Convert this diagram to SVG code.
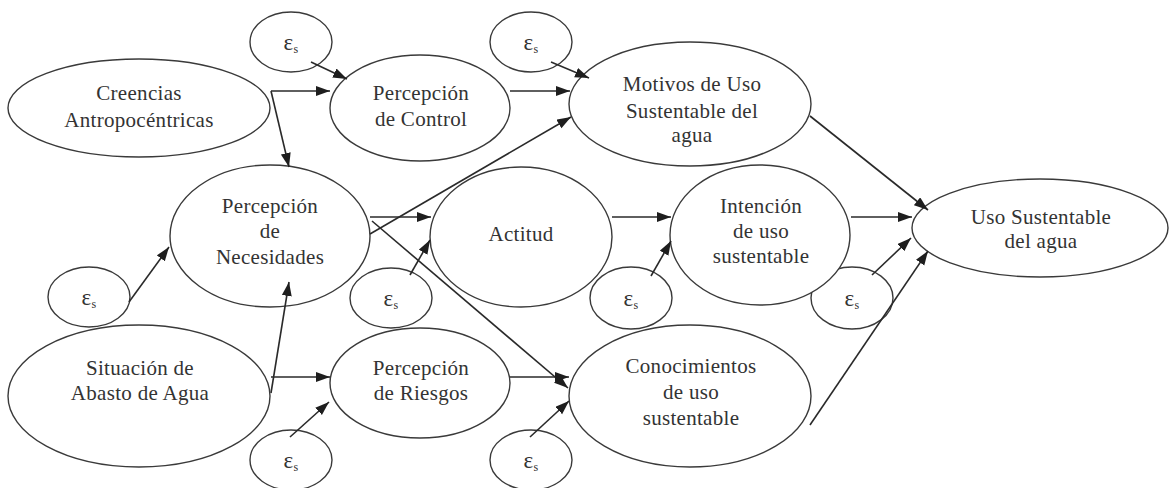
<svg xmlns="http://www.w3.org/2000/svg" width="1169" height="488" viewBox="0 0 1169 488">
  <style>
    .node ellipse { fill: #ffffff; stroke: #3a3a3a; stroke-width: 1.4; }
    .node text { font-family: "Liberation Serif", "Times New Roman", serif; font-size: 21px; fill: #333333; text-anchor: middle; letter-spacing: 0.3px; }
    .err text { font-family: "Liberation Serif", "Times New Roman", serif; font-size: 23px; fill: #333333; text-anchor: middle; }
    .err tspan.sub { font-size: 12px; }
    #connectors line { stroke: #2a2a2a; stroke-width: 1.6; fill: none; marker-end: url(#arrow); }
  </style>
  <defs>
    <marker id="arrow" markerUnits="userSpaceOnUse" markerWidth="15" markerHeight="11" refX="14" refY="5" orient="auto">
      <path d="M0,0 L14,5 L0,10 z" fill="#1e1e1e"/>
    </marker>
  </defs>
  <rect width="1169" height="488" fill="#ffffff"/>

  <!-- error terms -->
  <g id="e-control" class="node err"><ellipse cx="291" cy="42" rx="41" ry="30"/><text x="291" y="50">ε<tspan class="sub" dy="3">s</tspan></text></g>
  <g id="e-motivos" class="node err"><ellipse cx="531" cy="42" rx="41" ry="30"/><text x="531" y="50">ε<tspan class="sub" dy="3">s</tspan></text></g>
  <g id="e-necesidades" class="node err"><ellipse cx="89" cy="297" rx="41" ry="30"/><text x="89" y="305">ε<tspan class="sub" dy="3">s</tspan></text></g>
  <g id="e-actitud" class="node err"><ellipse cx="391" cy="298" rx="41" ry="30"/><text x="391" y="306">ε<tspan class="sub" dy="3">s</tspan></text></g>
  <g id="e-intencion" class="node err"><ellipse cx="631" cy="298" rx="41" ry="31"/><text x="631" y="306">ε<tspan class="sub" dy="3">s</tspan></text></g>
  <g id="e-uso" class="node err"><ellipse cx="852" cy="298" rx="41" ry="31"/><text x="852" y="306">ε<tspan class="sub" dy="3">s</tspan></text></g>
  <g id="e-riesgos" class="node err"><ellipse cx="291" cy="460" rx="41" ry="30"/><text x="291" y="468">ε<tspan class="sub" dy="3">s</tspan></text></g>
  <g id="e-conocimientos" class="node err"><ellipse cx="531" cy="460" rx="41" ry="30"/><text x="531" y="468">ε<tspan class="sub" dy="3">s</tspan></text></g>

  <!-- main constructs -->
  <g id="creencias" class="node"><ellipse cx="139" cy="108" rx="131" ry="49"/>
    <text x="139" y="100">Creencias</text><text x="139" y="127">Antropocéntricas</text></g>
  <g id="control" class="node"><ellipse cx="420" cy="108" rx="90" ry="53"/>
    <text x="421" y="100">Percepción</text><text x="421" y="126">de Control</text></g>
  <g id="motivos" class="node"><ellipse cx="690" cy="104" rx="121" ry="62"/>
    <text x="692" y="91">Motivos de Uso</text><text x="692" y="118">Sustentable del</text><text x="692" y="142">agua</text></g>
  <g id="necesidades" class="node"><ellipse cx="270" cy="236" rx="100" ry="71"/>
    <text x="270" y="213">Percepción</text><text x="270" y="238">de</text><text x="270" y="264">Necesidades</text></g>
  <g id="actitud" class="node"><ellipse cx="521" cy="237" rx="91" ry="70"/>
    <text x="521" y="241">Actitud</text></g>
  <g id="intencion" class="node"><ellipse cx="760" cy="235" rx="90" ry="70"/>
    <text x="761" y="213">Intención</text><text x="761" y="238">de uso</text><text x="761" y="263">sustentable</text></g>
  <g id="uso" class="node"><ellipse cx="1040" cy="228" rx="128" ry="49"/>
    <text x="1041" y="224">Uso Sustentable</text><text x="1041" y="248">del agua</text></g>
  <g id="situacion" class="node"><ellipse cx="139" cy="396" rx="131" ry="71"/>
    <text x="140" y="375">Situación de</text><text x="140" y="400">Abasto de Agua</text></g>
  <g id="riesgos" class="node"><ellipse cx="420" cy="383" rx="90" ry="55"/>
    <text x="421" y="375">Percepción</text><text x="421" y="400">de Riesgos</text></g>
  <g id="conocimientos" class="node"><ellipse cx="690" cy="396" rx="121" ry="71"/>
    <text x="691" y="373">Conocimientos</text><text x="691" y="399">de uso</text><text x="691" y="425">sustentable</text></g>

  <!-- paths between constructs -->
  <g id="connectors">
    <line x1="271" y1="91" x2="330" y2="91"/>
    <line x1="271" y1="91" x2="289" y2="167"/>
    <line x1="311" y1="62" x2="347" y2="79"/>
    <line x1="510" y1="91" x2="570" y2="91"/>
    <line x1="551" y1="62" x2="589" y2="78"/>
    <line x1="370" y1="234" x2="571" y2="117"/>
    <line x1="370" y1="217" x2="431" y2="217"/>
    <line x1="372" y1="221" x2="568" y2="388"/>
    <line x1="129" y1="302" x2="169" y2="247"/>
    <line x1="410" y1="275" x2="430" y2="240"/>
    <line x1="612" y1="217" x2="671" y2="217"/>
    <line x1="651" y1="276" x2="671" y2="241"/>
    <line x1="810" y1="116" x2="928" y2="210"/>
    <line x1="851" y1="217" x2="912" y2="217"/>
    <line x1="872" y1="275" x2="911" y2="238"/>
    <line x1="810" y1="425" x2="928" y2="251"/>
    <line x1="271" y1="393" x2="289" y2="282"/>
    <line x1="271" y1="377" x2="330" y2="377"/>
    <line x1="290" y1="437" x2="329" y2="402"/>
    <line x1="510" y1="377" x2="569" y2="377"/>
    <line x1="530" y1="437" x2="569" y2="401"/>
  </g>
</svg>
